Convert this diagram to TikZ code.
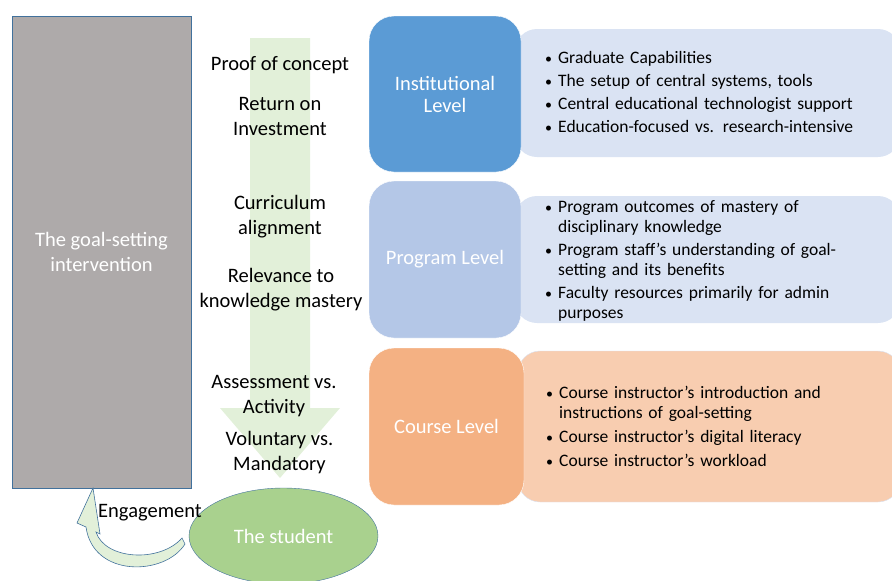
\documentclass[tikz,border=0pt]{standalone}
\usepackage{fontspec}
\setmainfont{Carlito}
\usepackage{enumitem}
\usetikzlibrary{shapes.geometric}
\definecolor{grayfill}{HTML}{AEAAAA}
\definecolor{outl}{HTML}{41719C}
\definecolor{instblue}{HTML}{5B9BD5}
\definecolor{progblue}{HTML}{B4C7E7}
\definecolor{listblue}{HTML}{DAE3F3}
\definecolor{courseor}{HTML}{F4B183}
\definecolor{listor}{HTML}{F8CDB0}
\definecolor{stud}{HTML}{A9D18E}
\definecolor{lightgreen}{HTML}{E2F0D9}
\tikzset{
  midtext/.style={align=center, font=\fontsize{20.5}{25}\selectfont, inner sep=0pt},
  levelbox/.style={draw=white, rounded corners=25pt, text=white, align=center,
    font=\fontsize{20.5}{22}\selectfont, inner sep=0pt},
  listbox/.style={rounded corners=22pt, inner sep=0pt},
  listtext/.style={anchor=west, inner sep=0pt, text width=335pt, align=left,
    font=\fontsize{17.5}{20}\selectfont},
}
\newenvironment{blist}[1]{\begin{itemize}[leftmargin=15pt,labelsep=6pt,itemsep=#1,topsep=0pt,parsep=0pt,partopsep=0pt,label={\fontsize{14}{14}\selectfont\textbullet}]}{\end{itemize}}
\begin{document}
\begin{tikzpicture}[x=1pt,y=-1pt]
\useasboundingbox (0,0) rectangle (892,581);
% goal-setting box
\node[draw=outl, fill=grayfill, minimum width=179pt, minimum height=472pt, inner sep=0pt,
  text=white, align=center, font=\fontsize{20.5}{25}\selectfont] (goal) at (101.5,252) {The goal-setting\\intervention};
% green down arrow
\fill[lightgreen] (250,38) -- (310,38) -- (310,408) -- (340,408) -- (280,478) -- (220,408) -- (250,408) -- cycle;
\coordinate (arrowtop) at (280,38);
% middle texts
\node[midtext] (proof) at (280,65.5) {Proof of concept};
\node[midtext] (roi) at (280,116.5) {Return on\\Investment};
\node[midtext] (curr) at (280,216.5) {Curriculum\\alignment};
\node[midtext] (relev) at (281,290) {Relevance to\\knowledge mastery};
\node[midtext] (assess) at (274,396) {Assessment vs.\\Activity};
\node[midtext] (volun) at (279.5,452.5) {Voluntary vs.\\Mandatory};
% list boxes
\fill[listblue, listbox] (515,29) rectangle (900,157);
\fill[listblue, listbox] (515,196) rectangle (900,323);
\filldraw[fill=listor, draw=listblue, listbox] (518,351) rectangle (900,502);
% level boxes
\node[levelbox, fill=instblue, minimum width=152pt, minimum height=156pt] (inst) at (445,94) {\raisebox{0pt}{}Institutional\\Level};
\node[levelbox, fill=progblue, minimum width=152pt, minimum height=157pt] (prog) at (445,259.5) {Program Level};
\node[levelbox, fill=courseor, minimum width=155pt, minimum height=157pt] (course) at (446.5,426.5) {Course Level};
% lists
\node[listtext] (instlist) at (543,88) {\begin{blist}{3pt}
\item Graduate Capabilities
\item The setup of central systems, tools
\item Central educational technologist support
\item Education-focused vs. research-intensive
\end{blist}};
\node[listtext] (proglist) at (543,256.5) {\begin{blist}{3pt}
\item Program outcomes of mastery of\\disciplinary knowledge
\item Program staff’s understanding of goal-\\setting and its benefits
\item Faculty resources primarily for admin\\purposes
\end{blist}};
\node[listtext] (courselist) at (544,423) {\begin{blist}{4pt}
\item Course instructor’s introduction and\\instructions of goal-setting
\item Course instructor’s digital literacy
\item Course instructor’s workload
\end{blist}};
% student
\node[draw=outl, fill=stud, ellipse, minimum width=189pt, minimum height=96pt, inner sep=0pt,
  text=white, font=\fontsize{20.5}{22}\selectfont] (student) at (283.5,536) {The student};
% curved engagement arrow
\filldraw[fill=lightgreen, draw=outl, line width=0.6pt]
  (185,544) .. controls (165,576) and (93,578) .. (86,527)
  -- (77,523) -- (93,488) -- (100,534) -- (96,532)
  .. controls (105,560) and (160,563) .. (182,538) -- cycle;
\node[font=\fontsize{20.5}{22}\selectfont, inner sep=0pt] (eng) at (150,513) {Engagement};
\end{tikzpicture}
\end{document}
